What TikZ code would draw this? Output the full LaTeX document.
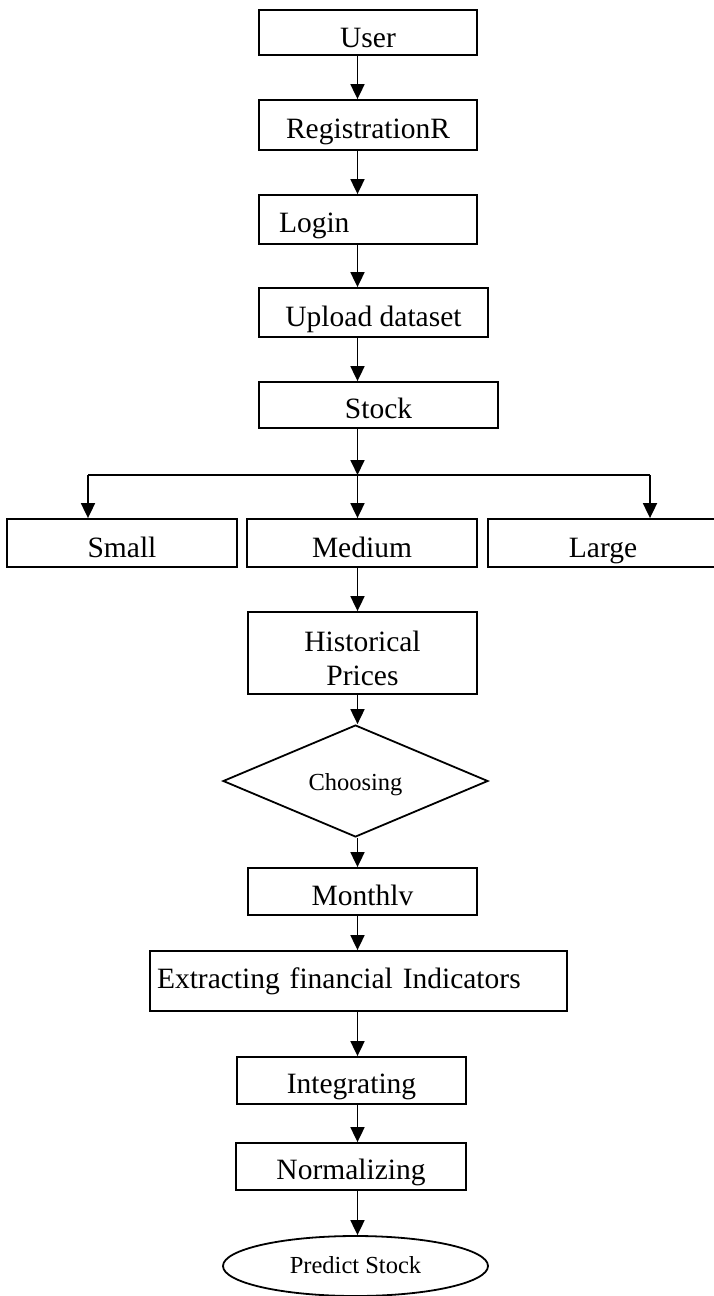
\documentclass[tikz,border=0pt]{standalone}
\usepackage{fontspec}
\setmainfont{Liberation Serif}
\usetikzlibrary{arrows.meta,shapes.geometric}

\newcommand{\boxfont}{\fontsize{29.5}{34}\selectfont}
\newcommand{\smallfont}{\fontsize{24.5}{28}\selectfont}

\begin{document}
\begin{tikzpicture}[x=1pt,y=-1pt,line width=1.8pt,>={Triangle[length=15pt,width=14pt]}]
    % Flowchart styles
    \tikzstyle{box}=[draw,rectangle,inner sep=0pt,font=\boxfont,text height=27pt,text depth=0pt]
    \tikzstyle{choice}=[draw,diamond,inner sep=0pt,font=\smallfont,text depth=0pt]
    \tikzstyle{finish}=[draw,ellipse,inner sep=0pt,font=\smallfont,text depth=0pt]

    \useasboundingbox (0,0) rectangle (714,1296);
    \clip (0,0) rectangle (714,1296);

    % Nodes, positions, and labels
    \node[box,minimum width=218pt,minimum height=45pt,text height=29pt] (user) at (368,32.5) {User};
    \node[box,minimum width=218pt,minimum height=50pt,text height=26pt] (reg) at (368,125) {RegistrationR};
    \node[box,text width=178pt,inner xsep=20pt,align=left,minimum height=49pt,text height=25pt] (login) at (368,219.5) {Login};
    \node[box,minimum width=229pt,minimum height=49pt] (upload) at (373.5,312.5) {Upload dataset};
    \node[box,minimum width=239pt,minimum height=46pt,text height=26pt] (stock) at (378.5,405) {Stock};

    \node[box,minimum width=230pt,minimum height=48pt,text height=28pt] (small)  at (122,543) {Small};
    \node[box,minimum width=230pt,minimum height=48pt,text height=28pt] (medium) at (362,543) {Medium};
    \node[box,minimum width=230pt,minimum height=48pt,text height=28pt] (large)  at (603,543) {Large};

    \node[box,align=center,minimum width=229pt,minimum height=82pt,text height=64pt,text depth=0pt] (hist) at (362.5,653) {Historical\\Prices};
    \node[choice,minimum width=265pt,minimum height=82pt,text height=18pt] (choose) at (355.5,781) {Choosing};
    \node[box,minimum width=229pt,minimum height=47pt] (month) at (362.5,891.5) {Monthlv};
    \node[box,text width=403pt,inner xsep=7pt,align=left,minimum height=60pt,text height=14pt] (extract) at (358.5,981) {Extracting financial Indicators};
    \node[box,minimum width=229pt,minimum height=47pt,text height=25pt] (integ) at (351.5,1080.5) {Integrating};
    \node[box,minimum width=230pt,minimum height=47pt,text height=25pt] (norm) at (351,1166.5) {Normalizing};
    \node[finish,minimum width=265pt,minimum height=60pt,text height=14pt] (predict) at (355.5,1266) {Predict Stock};

    % Branch points
    \coordinate (spine) at (357.5,0);
    \coordinate (fork)  at (357.5,475);
    \coordinate (forkL) at (88,475);
    \coordinate (forkR) at (650,475);

    % Edges
    \draw (forkL) -- (forkR);
    \path[->]
    (user.south -| spine)    edge (reg.north -| spine)
    (reg.south -| spine)     edge (login.north -| spine)
    (login.south -| spine)   edge (upload.north -| spine)
    (upload.south -| spine)  edge (stock.north -| spine)
    (stock.south -| spine)   edge (fork)
    (forkL)                  edge (small.north -| forkL)
    (fork)                   edge (medium.north -| fork)
    (forkR)                  edge (large.north -| forkR)
    (medium.south -| spine)  edge (hist.north -| spine)
    (hist.south -| spine)    edge (choose.north -| spine)
    (choose.south -| spine)  edge (month.north -| spine)
    (month.south -| spine)   edge (extract.north -| spine)
    (extract.south -| spine) edge (integ.north -| spine)
    (integ.south -| spine)   edge (norm.north -| spine)
    (norm.south -| spine)    edge (predict.north -| spine);

\end{tikzpicture}
\end{document}
